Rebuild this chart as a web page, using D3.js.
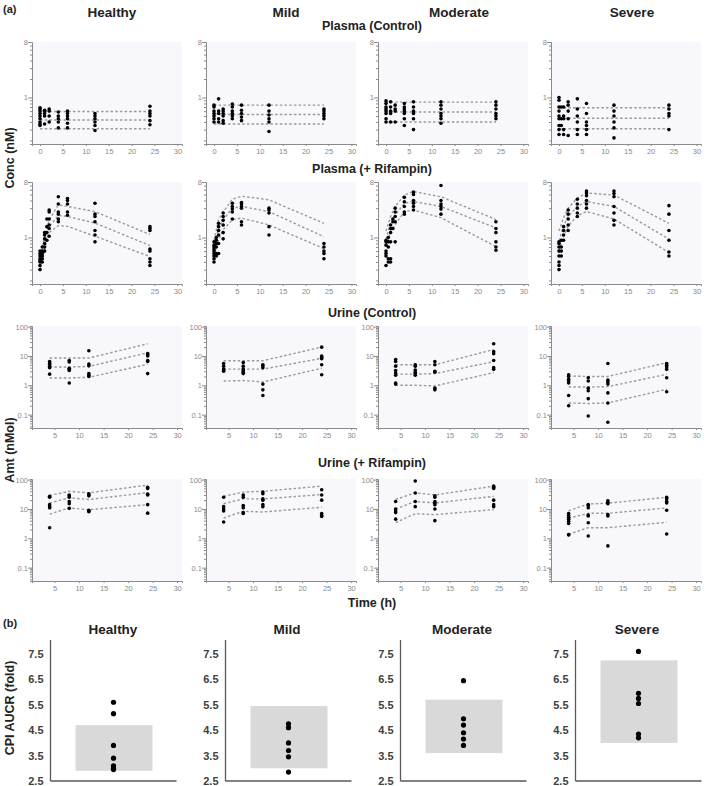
<!DOCTYPE html>
<html><head><meta charset="utf-8">
<script src="https://cdn.jsdelivr.net/npm/d3@7"></script>
<style>body{margin:0;background:#fff}svg{display:block;font-family:Arial,"Liberation Sans",sans-serif}</style>
</head><body><svg id="c" width="709" height="786"></svg>
<script>
const groups = ["Healthy","Mild","Moderate","Severe"];
const rowTitles = ["Plasma (Control)","Plasma (+ Rifampin)","Urine (Control)","Urine (+ Rifampin)"];
const plasmaXTicks = [0,5,10,15,20,25,30];
const urineXTicks = [5,10,15,20,25,30];
const plasmaYLabels = [1,8];
const urineYLabels = [0.1,1,10,100];
const aucrTicks = [2.5,3.5,4.5,5.5,6.5,7.5];

// Plasma control: flat prediction lines (5th, 50th, 95th percentiles)
const ctrlLineTimes = [0,24];
const plasmaCtrlP05 = [0.31,0.37,0.40,0.31];
const plasmaCtrlP50 = [0.43,0.53,0.58,0.46];
const plasmaCtrlP95 = [0.59,0.75,0.84,0.68];
// observations: [time, values...]
const plasmaCtrlObs = [
  [[0,0.35,0.37,0.4,0.45,0.5,0.55,0.6,0.65,0.68],[1,0.37,0.5,0.55,0.6,0.62],[2,0.4,0.5,0.6,0.65],[4,0.32,0.4,0.45,0.5,0.58],[6,0.32,0.38,0.45,0.5,0.55,0.6],[12,0.29,0.35,0.4,0.45,0.5,0.55],[24,0.36,0.42,0.5,0.55,0.6,0.72]],
  [[0,0.4,0.45,0.5,0.55,0.6,0.7,0.75],[1,0.4,0.45,0.55,0.6,0.95],[2,0.38,0.42,0.5,0.55,0.6,0.65],[4,0.45,0.5,0.55,0.6,0.7,0.78],[6,0.42,0.48,0.55,0.62,0.75],[12,0.28,0.4,0.45,0.52,0.6,0.75],[24,0.45,0.5,0.55,0.6,0.65]],
  [[0,0.4,0.45,0.55,0.6,0.65,0.7,0.8,0.88],[1,0.4,0.55,0.6,0.7,0.85],[2,0.4,0.6,0.65,0.75],[4,0.35,0.45,0.55,0.6,0.65,0.7,0.8],[6,0.3,0.45,0.55,0.6,0.7,0.85],[12,0.38,0.45,0.5,0.55,0.65,0.75,0.85],[24,0.45,0.5,0.55,0.65,0.75,0.85]],
  [[0,0.25,0.3,0.35,0.45,0.5,0.6,0.7,0.9,1.0],[0.5,0.35,0.45,0.7],[1,0.25,0.3,0.45,0.5,0.7],[2,0.24,0.45,0.6,0.75,0.85],[4,0.25,0.3,0.4,0.5,0.65,0.95],[6,0.25,0.3,0.35,0.4,0.55,0.8],[12,0.22,0.32,0.4,0.5,0.6,0.75],[24,0.3,0.5,0.55,0.65,0.75]]
];

// Plasma + rifampin
const plasmaTimes = [0,1,2,4,6,12,24];
const plasmaRifP95 = [[0.5,1.0,1.94,3.4,3.2,2.64,1.12],[0.9,1.94,2.6,4.2,4.7,4.1,1.7],[1.27,2.2,3.2,4.9,5.6,4.6,1.96],[1.28,2.1,3.0,4.4,5.3,4.9,1.7]];
const plasmaRifP50 = [[0.4,0.83,1.5,2.28,2.2,1.72,0.74],[0.7,1.43,1.94,3.0,3.2,2.64,1.03],[0.94,1.72,2.33,3.6,3.85,3.2,1.43],[0.88,1.53,2.2,3.2,3.85,3.2,0.94]];
const plasmaRifP05 = [[0.31,0.64,1.2,1.56,1.52,1.05,0.49],[0.5,0.93,1.34,1.94,2.07,1.6,0.66],[0.73,1.26,1.62,2.64,2.8,2.1,0.71],[0.61,1.06,1.53,2.27,2.64,2.0,0.57]];
const plasmaRifObs = [
  [[0,0.3,0.35,0.4,0.42,0.45,0.5,0.55,0.6],[0.5,0.4,0.45,0.5,0.55,0.6,0.7],[1,0.6,0.7,0.8,0.95,1.1,1.2],[1.5,0.9,1.2,1.5,2.0],[2,1.05,1.4,1.6,2.0,2.6,2.8],[4,1.8,2.0,2.4,2.6,3.5,4.6],[6,2.3,2.6,3.5,4.0,4.3],[12,0.85,1.1,1.3,1.8,2.2,2.4,3.6],[24,0.35,0.4,0.45,0.6,0.65,1.3,1.4,1.5]],
  [[0,0.4,0.45,0.5,0.55,0.6,0.65,0.7,0.75,0.85],[0.5,0.5,0.55,0.7,0.8,0.9,1.0],[1,0.55,0.8,1.1,1.3,1.5,1.7],[2,0.95,1.2,1.6,1.9,2.2,2.5],[4,2.0,2.6,2.9,3.2,3.6],[6,1.6,1.8,3.0,3.2,3.5,3.7],[12,1.1,1.5,2.5,2.8,3.0],[24,0.45,0.55,0.6,0.7,0.8]],
  [[0,0.35,0.5,0.55,0.6,0.75,0.85,0.9],[0.5,0.4,0.45,0.7,0.85,1.0],[1,0.4,0.45,0.85,1.2,1.4,1.6],[1.5,1.4,1.8,2.0],[2,0.85,1.8,2.2,2.6,3.0],[4,2.4,2.6,3.2,3.8,4.5],[6,2.8,3.2,3.6,4.0,5.0,5.5],[12,2.4,2.9,3.2,3.5,4.0,7.0],[24,0.62,0.7,0.85,1.2,1.4,1.8]],
  [[0,0.3,0.35,0.4,0.5,0.6,0.7,0.8,0.85],[0.5,0.5,0.6,0.7,0.9],[1,0.9,1.1,1.3,1.5],[2,1.3,1.6,2.0,2.4,2.8],[4,2.2,2.5,3.0,3.5,4.2],[6,3.0,3.5,4.0,4.8,5.3,5.7],[12,1.6,1.9,2.5,3.2,4.6,5.2,5.7],[24,0.5,0.58,0.9,1.3,2.4,3.3]]
];

// Urine
const urineTimes = [4,8,12,24];
const urineCtrlP95 = [[8.5,8.5,8.5,26],[6.9,6.9,6.9,20],[5.0,5.0,5.0,16.5],[2.07,2.0,2.0,5.9]];
const urineCtrlP50 = [[4.2,4.2,4.4,12.8],[3.56,3.56,3.56,8.3],[2.4,2.4,2.5,6.4],[0.87,0.87,0.9,2.36]];
const urineCtrlP05 = [[1.78,1.78,1.87,5.2],[1.4,1.45,1.3,3.8],[1.0,1.0,0.95,2.7],[0.25,0.24,0.25,0.73]];
const urineCtrlObs = [
  [[4,2.4,4.0,4.5,5.2,5.8,6.5],[8,1.2,3.2,3.5,3.8,6.2,7.0],[12,2.0,2.2,2.5,4.6,5.3,15],[24,2.5,6.5,7.0,10,11,12]],
  [[4,3.0,3.3,3.6,4.5,5.5],[8,2.5,2.8,3.2,3.6,4.5,6],[12,0.45,0.7,1.1,4.0,4.6,5.0],[24,2.3,5,8,9,10,20]],
  [[4,1.1,1.2,2.2,2.6,3.2,4.5,6.5,7.5],[8,2.2,2.5,2.8,3.3,4.5,5.0],[12,0.7,0.8,2.8,3.0,5.0,6.5],[24,3.5,4.0,7.0,12,14,26]],
  [[4,0.2,0.45,1.2,1.4,1.6,2.0,2.3],[8,0.09,0.35,0.65,0.8,1.4,1.8],[12,0.055,0.25,0.55,1.1,1.3,1.5,5.5],[24,0.6,1.8,3.5,4.2,4.8,5.5]]
];
const urineRifP95 = [[29,40,35.6,65],[27,37.5,40,60],[21,35.5,30,60],[8.7,14.8,15.7,25]];
const urineRifP50 = [[16,24,21,36],[15,22,22,31],[10,18,16,27],[4.8,7.1,7.1,10.8]];
const urineRifP05 = [[6.7,10.8,9.4,14],[4.9,8.3,7.9,11.4],[3.45,6.9,6.4,9.5],[1.37,2.3,2.3,3.5]];
const urineRifObs = [
  [[4,2.3,11,12,14,25,27],[8,10.5,15,18,25,28,30],[12,8,8.5,9,28,30,33],[24,7.2,14,30,32,50,55]],
  [[4,3.6,8.5,10,12,25],[8,7,7.5,11,13,25,30],[12,12,14,20,22,33,38],[24,5.5,6,7,20,30,45]],
  [[4,4.5,7.5,8.5,10,18],[8,12,18,35,90],[12,4.0,10,14,16,18,25,28],[24,12,14,20,50,55,60]],
  [[4,1.3,1.35,3.2,3.8,4.5,5.2,6,7],[8,1.2,3.4,5.8,6.2,11,13,14],[12,0.55,5.8,6.5,15,17,19],[24,1.4,9,16,18,22,25]]
];

// (b) CPI AUCR
const aucrObs = [[5.6,5.15,3.9,3.4,3.1,3.0,2.95],[4.75,4.6,4.0,3.7,3.45,2.85],[6.45,4.95,4.7,4.4,4.15,3.9],[7.6,5.95,5.75,5.55,4.35,4.2]];
const aucrBoxLow = [2.9,3.0,3.6,4.0];
const aucrBoxHigh = [4.7,5.45,5.7,7.25];

const svg = d3.select("#c");
const W = 150, H = 102;
const colX = [32,206,378,551];
const rowY = [42,182,326,479];
const axisCol = "#8a8a8a", tickTxt = "#8a8a8a", lineCol = "#9a9a9a";

function logTicks(lo, hi){
  const out=[];
  for(let e=-3;e<=3;e++){for(let m=1;m<=9;m++){const v=+(m*Math.pow(10,e)).toPrecision(3); if(v>=lo*0.999 && v<=hi*1.001) out.push(v);}}
  return out;
}

function panel(r, c, plasma, lineTimes, bands, obs){
  const g = svg.append("g").attr("transform",`translate(${colX[c]},${rowY[r]})`);
  g.append("rect").attr("width",W).attr("height",H).attr("fill","#f7f7fc");
  const x = d3.scaleLinear().domain(plasma?[-1.75,31]:[0.4,31]).range([0,W]);
  const yDom = plasma?[0.175,8]:[0.035,105];
  const y = d3.scaleLog().domain(yDom).range([H,0]);
  const labels = plasma?plasmaYLabels:urineYLabels;
  const yt = logTicks(yDom[0], yDom[1]);
  const ya = g.append("g").call(d3.axisLeft(y).tickValues(yt).tickSizeOuter(0).tickSize(2).tickPadding(2)
      .tickFormat(d=>labels.some(l=>Math.abs(l-d)<1e-9)?String(d):""));
  ya.selectAll(".tick line").attr("x2",d=>labels.some(l=>Math.abs(l-d)<1e-9)?-4:-2);
  const xa = g.append("g").attr("transform",`translate(0,${H})`)
      .call(d3.axisBottom(x).tickValues(plasma?plasmaXTicks:urineXTicks).tickSizeOuter(0).tickSize(2).tickPadding(3));
  [ya,xa].forEach(a=>{
    a.selectAll("path,line").attr("stroke",axisCol).attr("stroke-width",1);
    a.selectAll("text").attr("fill",tickTxt).attr("font-size",7.5);
  });
  const line = d3.line().x(d=>x(d[0])).y(d=>y(d[1]));
  bands.forEach(b=>{
    g.append("path").datum(lineTimes.map((t,i)=>[t,b[i]])).attr("d",line)
      .attr("fill","none").attr("stroke",lineCol).attr("stroke-width",1.4).attr("stroke-dasharray","2.5,2.2");
  });
  const pts = [];
  obs.forEach(o=>o.slice(1).forEach(v=>pts.push([o[0],v])));
  g.selectAll("circle").data(pts).join("circle").attr("cx",d=>x(d[0])).attr("cy",d=>y(d[1])).attr("r",1.8).attr("fill","#000");
}

for(let c=0;c<4;c++){
  panel(0,c,true,ctrlLineTimes,[[plasmaCtrlP95[c],plasmaCtrlP95[c]],[plasmaCtrlP50[c],plasmaCtrlP50[c]],[plasmaCtrlP05[c],plasmaCtrlP05[c]]],plasmaCtrlObs[c]);
  panel(1,c,true,plasmaTimes,[plasmaRifP95[c],plasmaRifP50[c],plasmaRifP05[c]],plasmaRifObs[c]);
  panel(2,c,false,urineTimes,[urineCtrlP95[c],urineCtrlP50[c],urineCtrlP05[c]],urineCtrlObs[c]);
  panel(3,c,false,urineTimes,[urineRifP95[c],urineRifP50[c],urineRifP05[c]],urineRifObs[c]);
}

// titles
const titleX = [112,286,459,632];
groups.forEach((t,i)=>svg.append("text").attr("x",titleX[i]).attr("y",17).attr("text-anchor","middle")
  .attr("font-size",13.5).attr("font-weight","bold").attr("fill","#222").text(t));
const rowTitleY = [30,173,317,467];
rowTitles.forEach((t,i)=>svg.append("text").attr("x",372).attr("y",rowTitleY[i]).attr("text-anchor","middle")
  .attr("font-size",12.5).attr("font-weight","bold").attr("fill","#222").text(t));
svg.append("text").attr("x",372).attr("y",607).attr("text-anchor","middle").attr("font-size",12.5).attr("font-weight","bold").attr("fill","#222").text("Time (h)");
svg.append("text").attr("x",3).attr("y",13).attr("font-size",11).attr("font-weight","bold").attr("fill","#222").text("(a)");
svg.append("text").attr("x",3).attr("y",627).attr("font-size",11).attr("font-weight","bold").attr("fill","#222").text("(b)");
svg.append("text").attr("transform","translate(14,158) rotate(-90)").attr("text-anchor","middle").attr("font-size",12.5).attr("font-weight","bold").attr("fill","#222").text("Conc (nM)");
svg.append("text").attr("transform","translate(14,450) rotate(-90)").attr("text-anchor","middle").attr("font-size",12.5).attr("font-weight","bold").attr("fill","#222").text("Amt (nMol)");

// (b)
const by = d3.scaleLinear().domain([2.5,8.05]).range([781,640]);
const bTitleX = [113,287,462,637];
groups.forEach((t,i)=>{
  const ax = 50.5 + 175*i;
  const g = svg.append("g");
  g.append("rect").attr("x",ax+25).attr("width",77).attr("y",by(aucrBoxHigh[i])).attr("height",by(aucrBoxLow[i])-by(aucrBoxHigh[i])).attr("fill","#d9d9d9");
  g.append("line").attr("x1",ax).attr("x2",ax).attr("y1",by(8.05)).attr("y2",by(2.5)).attr("stroke","#595959").attr("stroke-width",1.3);
  g.append("line").attr("x1",ax).attr("x2",ax+126).attr("y1",by(2.5)).attr("y2",by(2.5)).attr("stroke","#595959").attr("stroke-width",1.3);
  aucrTicks.forEach(v=>g.append("text").attr("x",ax-7).attr("y",by(v)+4).attr("text-anchor","end")
    .attr("font-size",11).attr("font-weight","bold").attr("fill","#404040").text(v.toFixed(1)));
  g.selectAll("circle").data(aucrObs[i]).join("circle").attr("cx",ax+63).attr("cy",d=>by(d)).attr("r",2.6).attr("fill","#000");
  svg.append("text").attr("x",bTitleX[i]).attr("y",634).attr("text-anchor","middle").attr("font-size",13.5).attr("font-weight","bold").attr("fill","#222").text(t);
});
svg.append("text").attr("transform","translate(14,708) rotate(-90)").attr("text-anchor","middle").attr("font-size",12.5).attr("font-weight","bold").attr("fill","#222").text("CPI AUCR (fold)");
</script></body></html>
